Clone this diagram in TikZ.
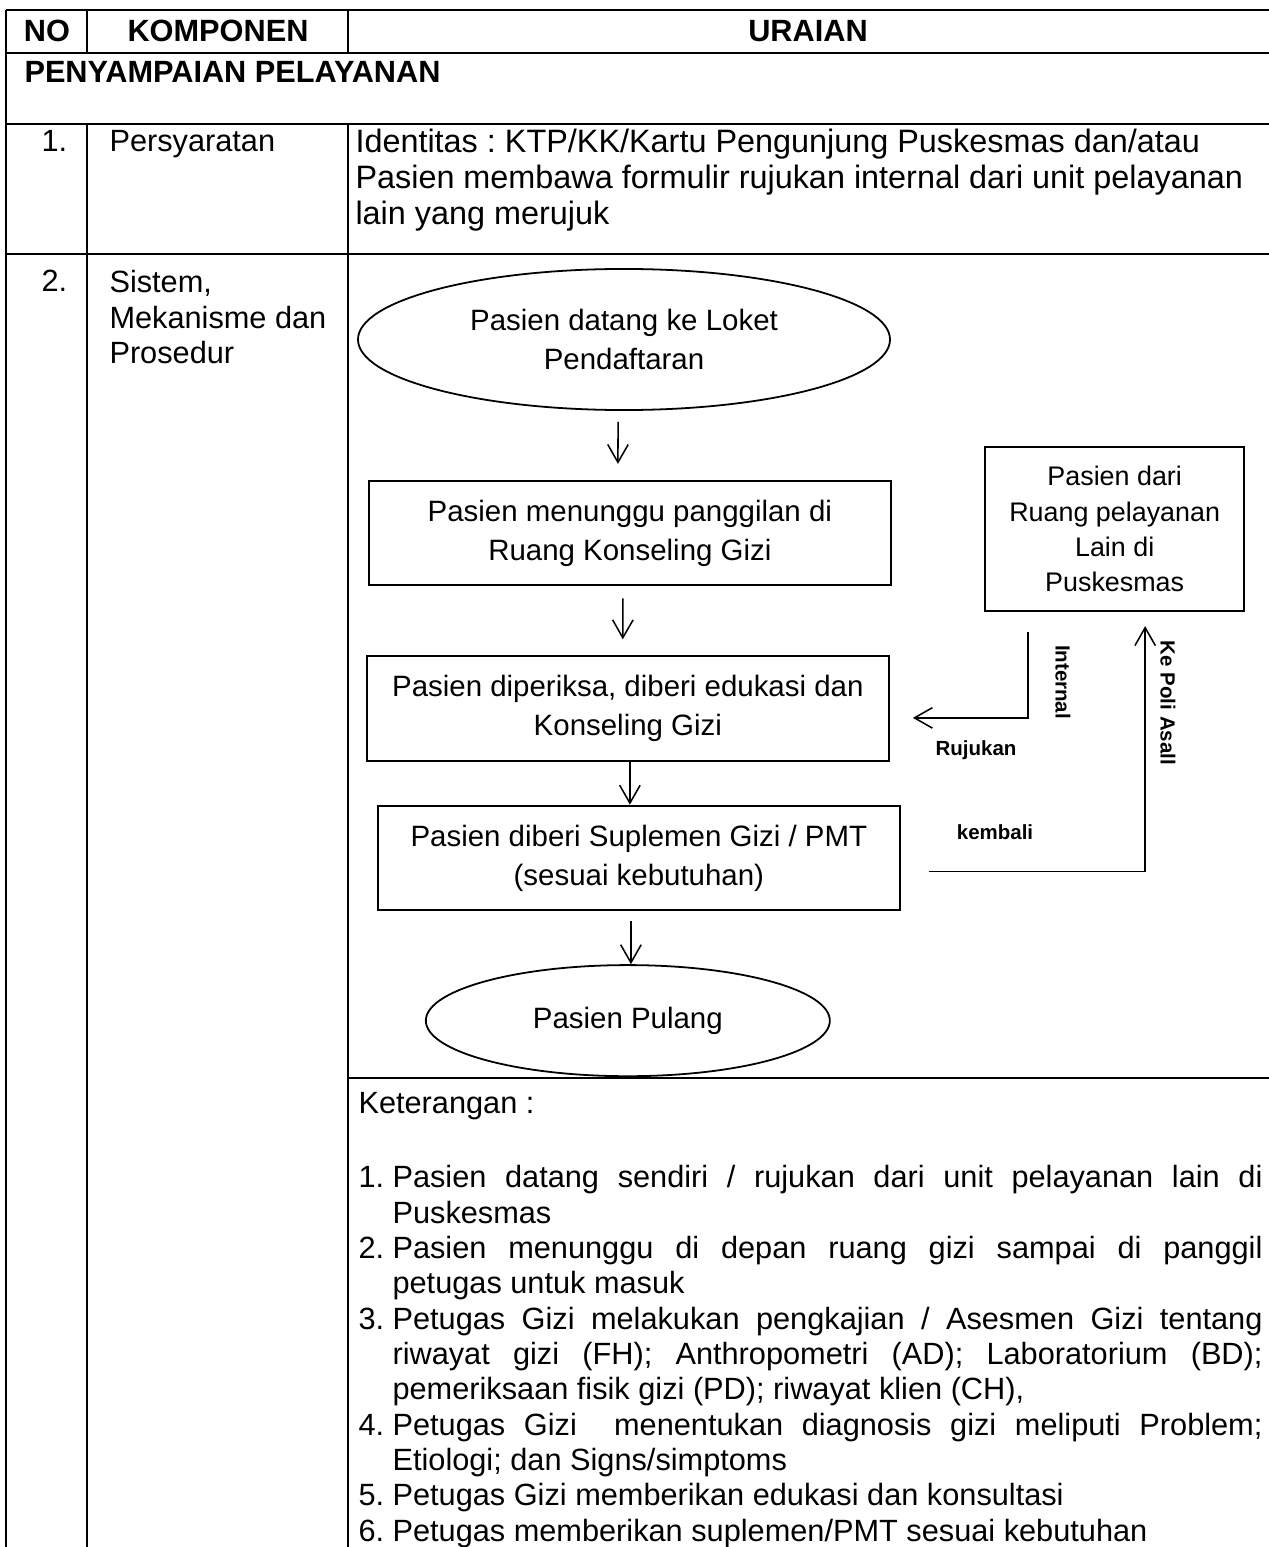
\documentclass[tikz,border=0pt]{standalone}
\usepackage{fontspec}
\setmainfont{Liberation Sans}
\frenchspacing
\usetikzlibrary{positioning,arrows.meta,shapes.geometric}
\tikzset{
  tab-line/.style={line width=0.8pt},
  tab-head/.style={font=\fontsize{12}{13.8}\selectfont\bfseries,inner sep=0pt},
  tab-text/.style={inner sep=0pt,align=left},
  flow-box/.style={draw,line width=0.8pt,minimum width=203.9pt,
    minimum height=40.8pt,align=center,inner sep=2pt,
    font=\fontsize{11.5}{15.2}\selectfont},
  flow-term/.style={draw,ellipse,line width=0.7pt,align=center,inner sep=0pt,
    font=\fontsize{11.5}{15.2}\selectfont},
  flow-side/.style={draw,line width=0.8pt,minimum width=101.2pt,
    minimum height=64.1pt,align=center,inner sep=2pt,
    font=\fontsize{10.5}{13.7}\selectfont},
  flow-note/.style={font=\bfseries\fontsize{8}{9.6}\selectfont,inner sep=0pt},
  ket-list/.style={inner sep=0pt,text width=353.1pt,align=justify},
  arrow/.style={-{Straight Barb[length=7pt,width=8pt]},line width=0.6pt},
}
\newcommand{\ketitem}[2]{\par\hangindent=13.3pt\hangafter=1\noindent
  \makebox[13.3pt][l]{#1}#2}

\begin{document}
\begin{tikzpicture}[x=0.3906pt,y=-0.3906pt,font=\fontsize{12}{13.8}\selectfont]
  \useasboundingbox (0,0) rectangle (1269,1547);

  % table grid
  \draw[tab-line] (6,10) -- (1269,10);
  \draw[tab-line] (6,53) -- (1269,53);
  \draw[tab-line] (6,124) -- (1269,124);
  \draw[tab-line] (6,254) -- (1269,254);
  \draw[tab-line] (348,1078) -- (1269,1078);
  \draw[tab-line] (6,10) -- (6,1547);
  \draw[tab-line] (87,10) -- (87,53) (87,124) -- (87,1547);
  \draw[tab-line] (348,10) -- (348,53) (348,124) -- (348,1547);

  \node[tab-head,anchor=base] (h-no) at (47,42) {NO};
  \node[tab-head,anchor=base] (h-komp) at (218,42) {KOMPONEN};
  \node[tab-head,anchor=base] (h-urai) at (808,42) {URAIAN};
  \node[tab-head,anchor=base west] (sec) at (24,83) {PENYAMPAIAN PELAYANAN};

  \node[tab-text,anchor=base west] (r1-no) at (41,152) {1.};
  \node[tab-text,anchor=base west] (r1-komp) at (109,152) {Persyaratan};
  \node[tab-text,anchor=north west,font=\fontsize{12.65}{13.9}\selectfont] (r1-urai) at (355,129)
    {Identitas : KTP/KK/Kartu Pengunjung Puskesmas dan/atau\\
     Pasien membawa formulir rujukan internal dari unit pelayanan\\
     lain yang merujuk};

  \node[tab-text,anchor=base west] (r2-no) at (41,292) {2.};
  \node[tab-text,anchor=north west] (r2-komp) at (109,270)
    {Sistem,\\Mekanisme dan\\Prosedur};

  % flowchart
  \node[flow-term,minimum width=207.8pt,minimum height=55.1pt] (start) at (624,339.5)
    {Pasien datang ke Loket\\Pendaftaran};
  \node[flow-box,below=26.9pt of start,xshift=2.3pt] (wait)
    {Pasien menunggu panggilan di\\Ruang Konseling Gizi};
  \node[flow-box,below=26.9pt of wait,xshift=-0.8pt] (exam)
    {Pasien diperiksa, diberi edukasi dan\\Konseling Gizi};
  \node[flow-box,below=16.8pt of exam,xshift=4.3pt] (supp)
    {Pasien diberi Suplemen Gizi / PMT\\(sesuai kebutuhan)};
  \node[flow-term,minimum width=157.8pt,minimum height=43.4pt,
    below=20.7pt of supp,xshift=-4.3pt] (done) {Pasien Pulang};
  \node[flow-side,right=36pt of wait,yshift=1.6pt] (side)
    {Pasien dari\\Ruang pelayanan\\Lain di\\Puskesmas};

  \draw[arrow,shorten <=4.3pt,shorten >=6.2pt] ([xshift=-2.3pt]start.south) -- ([xshift=-4.7pt]wait.north);
  \draw[arrow,shorten <=4.7pt,shorten >=6.2pt] ([xshift=-2.7pt]wait.south) -- ([xshift=-2pt]exam.north);
  \draw[arrow] ([xshift=0.8pt]exam.south) -- ([xshift=-3.5pt]supp.north);
  \draw[arrow,shorten <=3.9pt] ([xshift=-3.1pt]supp.south) -- ([xshift=1.2pt]done.north);
  \draw[arrow,shorten <=7.8pt,shorten >=9pt] ([xshift=-33.8pt]side.south) |- ([yshift=-3.7pt]exam.east);
  \draw[arrow,shorten <=10.9pt,shorten >=5.5pt] ([yshift=-5.3pt]supp.east) -| ([xshift=11.9pt]side.south);

  \node[flow-note,rotate=-90] (lbl-int) at (1063,682) {Internal};
  \node[flow-note] (lbl-ruj) at (976,750) {Rujukan};
  \node[flow-note,rotate=-90] (lbl-poli) at (1168,703) {Ke Poli Asall};
  \node[flow-note] (lbl-kem) at (995,832) {kembali};

  % keterangan
  \node[tab-text,anchor=base west] (ket) at (358,1113) {Keterangan :};
  \node[ket-list,anchor=north west] (ket-items) at (358,1152) {%
    \hyphenpenalty=10000\relax\exhyphenpenalty=10000\relax
    \ketitem{1.}{Pasien datang sendiri / rujukan dari unit pelayanan lain di\linebreak Puskesmas}
    \ketitem{2.}{Pasien menunggu di depan ruang gizi sampai di panggil\linebreak petugas untuk masuk}
    \ketitem{3.}{Petugas Gizi melakukan pengkajian / Asesmen Gizi tentang\linebreak
      riwayat gizi (FH); Anthropometri (AD); Laboratorium (BD);\linebreak
      pemeriksaan fisik gizi (PD); riwayat klien (CH),}
    \ketitem{4.}{Petugas Gizi\ \ menentukan diagnosis gizi meliputi Problem;\linebreak Etiologi; dan Signs/simptoms}
    \ketitem{5.}{Petugas Gizi memberikan edukasi dan konsultasi}
    \ketitem{6.}{Petugas memberikan suplemen/PMT sesuai kebutuhan}};
\end{tikzpicture}
\end{document}
